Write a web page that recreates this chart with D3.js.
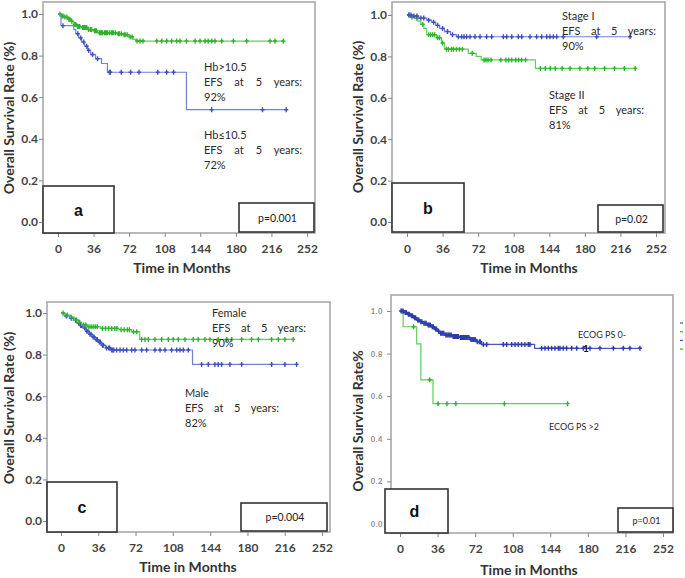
<!DOCTYPE html>
<html>
<head>
<meta charset="utf-8">
<script src="https://cdn.jsdelivr.net/npm/d3@7"></script>
<style>
  body { margin: 0; background: #fff; }
</style>
</head>
<body>
<svg id="chart" width="685" height="578"></svg>
<script>
// axis ticks shared by all four panels
const timeTicks = [0, 36, 72, 108, 144, 180, 216, 252];
const rateTicks = [0, 0.2, 0.4, 0.6, 0.8, 1.0];

// a: haemoglobin
const hbHighSteps = [[0,1],[3,0.99],[6,0.985],[10,0.975],[13,0.965],[16,0.95],[19,0.94],[24,0.935],[30,0.925],[36,0.92],[40,0.91],[60,0.905],[66,0.9],[72,0.89],[76,0.878],[79,0.87]];
const hbHighCensor = [2,4,5,7,9,11,12,14,17,18,20,21,22,25,26,27,28,29,31,33,34,37,38,39,42,43,44,45,47,48,49,50,52,54,55,56,58,61,62,64,67,68,70,73,75,80,83,86,100,105,110,115,120,123.5,130,138.7,143.7,148.8,152,155.6,159,165.7,177.5,191,214.6,219.6,228];
const hbHighEnd = 229;
const hbLowSteps = [[0,1],[3,0.944],[16,0.925],[18,0.905],[21,0.885],[24,0.865],[27,0.845],[30,0.825],[33,0.805],[38,0.785],[44,0.762],[50,0.72],[130,0.54]];
const hbLowCensor = [5,20,23,26,29,31,35,40,52,53,64,73.5,82,101,110,117,155.5,207,231];
const hbLowEnd = 231;
const hbHighNote = ["Hb>10.5", "EFS at 5 years:", "92%"];
const hbLowNote = ["Hb\u226410.5", "EFS at 5 years:", "72%"];

// b: stage
const stage1Steps = [[0,1],[5,0.995],[12,0.985],[20,0.975],[25,0.965],[29,0.95],[33,0.935],[38,0.92],[44,0.905],[50,0.895]];
const stage1Censor = [2,4,7,10,14,17,22,27,31,36,41,46,52,55.3,57.7,60.4,63.8,68.8,73.9,80.6,85.7,97.5,100.9,106,112.7,116.1,124.5,131.2,136.3,141.4,144.7,148.1,151.5,158.2,192,225.7];
const stage1End = 226;
const stage2Steps = [[0,1],[3,0.99],[8,0.984],[11,0.97],[14,0.955],[17,0.935],[20,0.905],[30,0.89],[35,0.865],[38,0.835],[62,0.815],[70,0.8],[75,0.783],[130,0.742]];
const stage2Censor = [2,5,10,16,22,24,26,28,31,33,36,40,42,45,47,50,53,56,66,78,80,82,85,95,100,103,106,110,113,116,120,135,140,145,150,157,165,175,183,190,200,210,220,231];
const stage2End = 231;
const stage1Note = ["Stage I", "EFS at 5 years:", "90%"];
const stage2Note = ["Stage II", "EFS at 5 years:", "81%"];

// c: sex
const femaleSteps = [[0,1],[4,0.99],[9,0.98],[13,0.966],[17,0.955],[20,0.942],[25,0.934],[38,0.926],[56,0.92],[68,0.91],[76,0.873]];
const femaleCensor = [2,6,10,15,18,22,24,27,29,31,33,35,40,43,46,49,52,54,58,61,64,66,70,73,77.9,81.1,84.3,90.7,97.2,103.6,108.4,113.2,119.7,127.7,132.5,139,143.8,151.8,160,164.8,174.4,184,190.5,203.3,209.8,216.2,224.2];
const femaleEnd = 224;
const maleSteps = [[0,1],[3,0.986],[8,0.975],[12,0.965],[15,0.952],[18,0.94],[21,0.928],[24,0.912],[27,0.898],[30,0.885],[33,0.872],[36,0.86],[39,0.845],[43,0.832],[48,0.822],[127,0.753]];
const maleCensor = [5,10,14,17,19,20,23,25,26,28,29,31,32,34,35,37,38,40,41,44,46,47,49,50,51,53.7,57,60.2,63.4,68.2,71.4,77.9,82.7,90.7,95.6,100.4,106.8,111.7,114.9,118.1,122.9,135.8,142.2,148.6,151.8,155.1,163.1,174.4,203.4,216.2,227.5];
const maleEnd = 227.5;
const femaleNote = ["Female", "EFS at 5 years:", "90%"];
const maleNote = ["Male", "EFS at 5 years:", "82%"];

// d: ECOG performance status
const ecogLowSteps = [[0,1],[4,0.993],[7,0.985],[10,0.978],[13,0.968],[16,0.958],[19,0.95],[22,0.942],[26,0.934],[30,0.926],[33,0.915],[36,0.905],[38,0.895],[43,0.887],[50,0.88],[57,0.876],[67,0.866],[73,0.856],[78,0.843],[129,0.825]];
const ecogLowCensor = [1,2,3,5,6,8,9,11,12,14,15,17,18,20,21,23,24,25,27,28,29,31,32,34,35,37,39,40,41,42,44,45,46,47,48,49,51,52,53,54,55,56,58,59,60,61,62,63,64,65,66,68,69,70,71,72,74,76,77,79.8,83,99,102.2,107,110.2,113.3,116.5,119.7,122.9,124.5,135.7,138.9,142.1,145.3,148.5,151.7,153.3,156.4,159.6,164.5,169.3,175.6,182,191.6,204.4,213.9,220.3,229.9];
const ecogLowEnd = 230;
const ecogHighSteps = [[0,1],[3,0.926],[16,0.846],[20,0.677],[31.6,0.565]];
const ecogHighCensor = [13,28.4,36.5,45,53.5,100,160.6];
const ecogHighEnd = 160.6;
const ecogLowNote = ["ECOG PS 0-"];
const ecogHighNote = ["ECOG PS >2"];

// colours
const green = { line: "#5ccf5c", mark: "#2fb32f" };
const blue = { line: "#6d82d8", mark: "#3f51bb" };
const darkBlue = { line: "#4759c4", mark: "#2c3ca8" };

const panels = [
  {
    tag: "a", pText: "p=0.001",
    frame: [43, 2, 315, 233], xr: [58, 307], yr: [222, 14],
    tagBox: [43, 186, 114, 233], pBox: [239, 203, 314, 232],
    yTitle: "Overall Survival Rate (%)", yTitlePos: [14, 118], xTitlePos: [182, 273],
    series: [
      { steps: hbHighSteps, censor: hbHighCensor, end: hbHighEnd, col: green },
      { steps: hbLowSteps, censor: hbLowCensor, end: hbLowEnd, col: blue }
    ],
    notes: [
      { lines: hbHighNote, x: 204, y: 70.5, w: 98 },
      { lines: hbLowNote, x: 204, y: 138.5, w: 98 }
    ]
  },
  {
    tag: "b", pText: "p=0.02",
    frame: [392, 2, 665, 233], xr: [407, 656], yr: [222, 15],
    tagBox: [392, 183, 464, 232], pBox: [598, 205, 663, 232],
    yTitle: "Overall Survival Rate (%)", yTitlePos: [363, 117], xTitlePos: [529, 273],
    series: [
      { steps: stage2Steps, censor: stage2Censor, end: stage2End, col: green },
      { steps: stage1Steps, censor: stage1Censor, end: stage1End, col: blue }
    ],
    notes: [
      { lines: stage1Note, x: 562, y: 19.5, w: 94 },
      { lines: stage2Note, x: 549, y: 99, w: 95 }
    ]
  },
  {
    tag: "c", pText: "p=0.004",
    frame: [47, 302, 330, 532], xr: [61, 322], yr: [521, 313],
    tagBox: [47, 482, 117, 532], pBox: [241, 503, 327, 531],
    yTitle: "Overall Survival Rate (%)", yTitlePos: [14, 408], xTitlePos: [188, 572],
    series: [
      { steps: maleSteps, censor: maleCensor, end: maleEnd, col: blue },
      { steps: femaleSteps, censor: femaleCensor, end: femaleEnd, col: green }
    ],
    notes: [
      { lines: femaleNote, x: 212, y: 317, w: 94 },
      { lines: maleNote, x: 185, y: 397, w: 94 }
    ]
  },
  {
    tag: "d", pText: "p=0.01", small: true,
    frame: [391, 295, 673, 533], xr: [400, 663], yr: [524, 311],
    tagBox: [385, 489, 448, 533], pBox: [618, 508, 673, 532],
    yTitle: "Overall Survival Rate%", yTitlePos: [363, 421], xTitlePos: [529, 575],
    series: [
      { steps: ecogHighSteps, censor: ecogHighCensor, end: ecogHighEnd, col: green },
      { steps: ecogLowSteps, censor: ecogLowCensor, end: ecogLowEnd, col: darkBlue }
    ],
    notes: [
      { lines: ecogLowNote, x: 578, y: 338 },
      { lines: ecogHighNote, x: 549, y: 430 }
    ]
  }
];

const svg = d3.select("#chart");
const font = "Lato, 'Open Sans', sans-serif";

panels.forEach(p => {
  const g = svg.append("g");
  const x = d3.scaleLinear().domain([0, 252]).range(p.xr);
  const y = d3.scaleLinear().domain([0, 1]).range(p.yr);
  const [fl, ft, fr, fb] = p.frame;

  // plot frame
  g.append("rect")
    .attr("x", fl).attr("y", ft)
    .attr("width", fr - fl).attr("height", fb - ft)
    .attr("fill", "none")
    .attr("stroke", "#a8a8a8")
    .attr("stroke-width", 1.6);

  // y axis
  const ya = g.append("g")
    .attr("transform", `translate(${fl},0)`)
    .call(d3.axisLeft(y).tickValues(rateTicks).tickFormat(d3.format(".1f"))
      .tickSize(4).tickPadding(p.small ? 4 : 1));
  ya.select(".domain").remove();
  ya.selectAll("line").attr("stroke", "#888");
  ya.selectAll("text")
    .attr("font-family", font)
    .attr("font-size", p.small ? 7.5 : 12)
    .attr("font-weight", "bold")
    .attr("letter-spacing", p.small ? 0.6 : 0)
    .attr("fill", p.small ? "#8a8a8a" : "#444");

  // x axis
  const xa = g.append("g")
    .attr("transform", `translate(0,${fb})`)
    .call(d3.axisBottom(x).tickValues(timeTicks).tickSize(4).tickPadding(7));
  xa.select(".domain").remove();
  xa.selectAll("line").attr("stroke", "#888");
  xa.selectAll("text")
    .attr("font-family", font)
    .attr("font-size", 12)
    .attr("font-weight", "bold")
    .attr("fill", "#444");

  // axis titles
  g.append("text")
    .attr("transform", `translate(${p.yTitlePos[0]},${p.yTitlePos[1]}) rotate(-90)`)
    .attr("text-anchor", "middle")
    .attr("font-family", font)
    .attr("font-size", 14)
    .attr("font-weight", "bold")
    .attr("fill", "#333")
    .text(p.yTitle);

  g.append("text")
    .attr("x", p.xTitlePos[0]).attr("y", p.xTitlePos[1])
    .attr("text-anchor", "middle")
    .attr("font-family", font)
    .attr("font-size", 14)
    .attr("font-weight", "bold")
    .attr("fill", "#333")
    .text("Time in Months");

  // survival curves with censor marks
  const line = d3.line()
    .x(d => x(d[0]))
    .y(d => y(d[1]))
    .curve(d3.curveStepAfter);

  p.series.forEach(s => {
    const last = s.steps[s.steps.length - 1][1];
    g.append("path")
      .datum(s.steps.concat([[s.end, last]]))
      .attr("d", line)
      .attr("fill", "none")
      .attr("stroke", s.col.line)
      .attr("stroke-width", 1.2);

    const valueAt = t => {
      let v = 1;
      s.steps.forEach(d => { if (d[0] <= t) v = d[1]; });
      return v;
    };

    g.selectAll(null)
      .data(s.censor)
      .join("path")
      .attr("transform", t => `translate(${x(t)},${y(valueAt(t))})`)
      .attr("d", "M-2,0H2M0,-2.5V2.5")
      .attr("stroke", s.col.mark)
      .attr("stroke-width", 1.4);
  });

  // panel letter box and p-value box
  const box = (b) => g.append("rect")
    .attr("x", b[0]).attr("y", b[1])
    .attr("width", b[2] - b[0]).attr("height", b[3] - b[1])
    .attr("fill", "#fff")
    .attr("stroke", "#333")
    .attr("stroke-width", 1.6);

  box(p.tagBox);
  g.append("text")
    .attr("x", (p.tagBox[0] + p.tagBox[2]) / 2 + (p.small ? -2 : 0))
    .attr("y", (p.tagBox[1] + p.tagBox[3]) / 2 + 6)
    .attr("text-anchor", "middle")
    .attr("font-family", "'Liberation Sans', Arial, sans-serif")
    .attr("font-size", 16)
    .attr("font-weight", "bold")
    .attr("fill", "#111")
    .text(p.tag);

  box(p.pBox);
  g.append("text")
    .attr("x", (p.pBox[0] + p.pBox[2]) / 2 + 1)
    .attr("y", (p.pBox[1] + p.pBox[3]) / 2 + 4)
    .attr("text-anchor", "middle")
    .attr("font-family", font)
    .attr("font-size", p.small ? 9 : 10.5)
    .attr("fill", "#222")
    .text(p.pText);

  // group annotations; the "EFS at 5 years:" line is justified
  p.notes.forEach(n => {
    n.lines.forEach((txt, i) => {
      const t = g.append("text")
        .attr("x", n.x)
        .attr("y", n.y + i * 15)
        .attr("font-family", font)
        .attr("font-size", p.small ? 9 : 11)
        .attr("fill", "#2a2a2a")
        .text(txt);
      if (n.w && i === 1) {
        const gaps = txt.split(" ").length - 1;
        const len = t.node().getComputedTextLength();
        t.attr("word-spacing", Math.max(0, (n.w - len) / gaps));
      }
    });
  });

  if (p.small) {
    // wrapped "1" of "ECOG PS 0-1"
    g.append("text")
      .attr("x", 583).attr("y", 352)
      .attr("font-family", font)
      .attr("font-size", 10)
      .attr("font-weight", "bold")
      .attr("fill", "#111")
      .text("1");

    // clipped legend symbols at the right edge
    const legendCols = [blue.mark, green.mark, blue.mark, green.mark];
    g.selectAll(null)
      .data(legendCols)
      .join("line")
      .attr("x1", 680).attr("x2", 683)
      .attr("y1", (d, i) => 323 + i * 8.7)
      .attr("y2", (d, i) => 323 + i * 8.7)
      .attr("stroke", d => d)
      .attr("stroke-width", 1.2);
  }
});
</script>
</body>
</html>
